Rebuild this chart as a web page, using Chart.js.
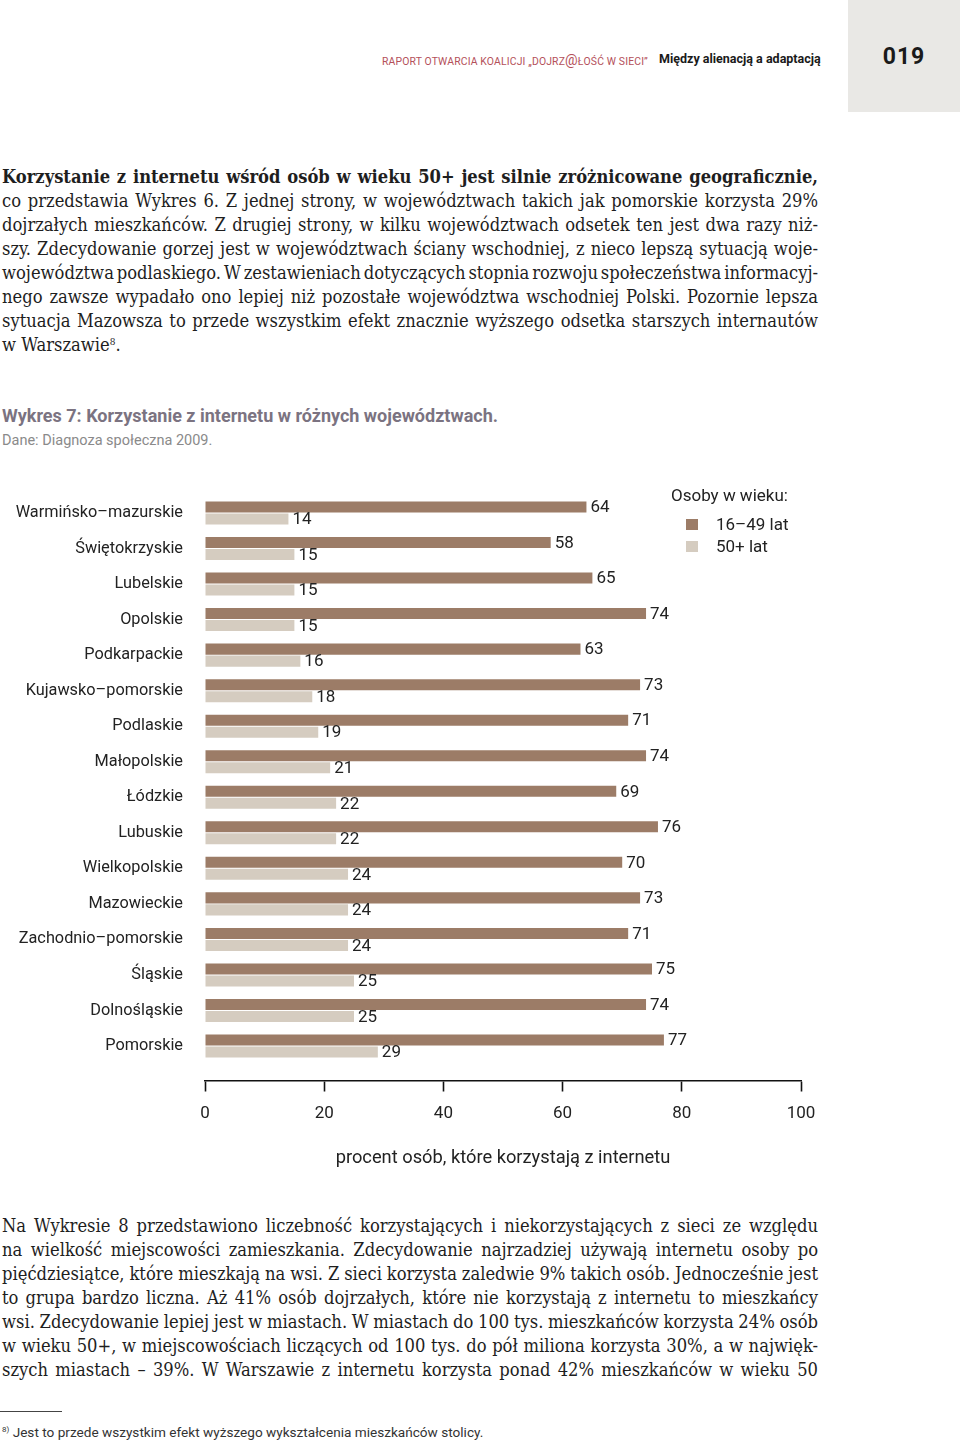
<!DOCTYPE html>
<html lang="pl">
<head>
<meta charset="utf-8">
<script src="https://cdn.jsdelivr.net/npm/chart.js@4.4.1/dist/chart.umd.min.js"></script>
<style>
  html, body { margin:0; padding:0; background:#fff; }
  body { width:960px; height:1444px; position:relative; overflow:hidden; font-family: Roboto, "DejaVu Sans", sans-serif; color:#222; }
  .abs { position:absolute; white-space:nowrap; }
  #pagebox { position:absolute; left:848px; top:0; width:112px; height:112px; background:#e9e8e5; }
  #pagenum { position:absolute; left:848px; top:43px; width:112px; text-align:center; font:bold 23px Roboto, sans-serif; color:#1a1a1a; letter-spacing:1px; }
  #hdr1 { left:382px; top:52px; font-size:10.4px; color:#b4505a; letter-spacing:0.15px; }
  #hdr2 { left:659px; top:51px; font-size:12.5px; font-weight:bold; color:#1a1a1a; }
  .para { position:absolute; left:2px; width:816px; font-family:"DejaVu Serif Condensed","DejaVu Serif",serif; font-stretch:condensed; font-size:18.2px; color:#1e1e1e; }
  .para div { height:24px; line-height:24px; white-space:nowrap; text-align:justify; text-align-last:justify; }
  .para div.last { text-align-last:left; }
  sup { font-size:10px; line-height:0; vertical-align:6px; }
  #ctitle { left:2px; top:405px; font-size:18px; font-weight:bold; color:#7b7381; }
  #csrc { left:2px; top:432px; font-size:14.5px; color:#8a8a8a; }
  #legend { position:absolute; left:671px; top:484px; font-size:17px; color:#222; }
  #legend .item { position:relative; height:22px; line-height:22px; padding-left:45px; }
  #legend .sw { position:absolute; left:15px; top:6px; width:12px; height:11px; }
  #legend .ttl { height:22px; line-height:22px; margin-bottom:7px; }
  #chartwrap { position:absolute; left:0; top:470px; width:960px; height:720px; }
  #fnline { position:absolute; left:0; top:1411px; width:62px; height:1px; background:#444; }
  #fn { left:2px; top:1424px; font-size:13.6px; color:#333; }
  #fn sup { font-size:8px; vertical-align:5px; }
</style>
</head>
<body>
<div id="pagebox"></div>
<div id="pagenum">019</div>
<div id="hdr1" class="abs">RAPORT OTWARCIA KOALICJI „DOJRZ<span style="font-size:14px">@</span>ŁOŚĆ W SIECI”</div>
<div id="hdr2" class="abs">Między alienacją a adaptacją</div>

<div class="para" style="top:165px">
  <div><b>Korzystanie z internetu wśród osób w wieku 50+ jest silnie zróżnicowane geograficznie,</b></div>
  <div>co przedstawia Wykres 6. Z jednej strony, w województwach takich jak pomorskie korzysta 29%</div>
  <div>dojrzałych mieszkańców. Z drugiej strony, w kilku województwach odsetek ten jest dwa razy niż-</div>
  <div>szy. Zdecydowanie gorzej jest w województwach ściany wschodniej, z nieco lepszą sytuacją woje-</div>
  <div>województwa podlaskiego. W zestawieniach dotyczących stopnia rozwoju społeczeństwa informacyj-</div>
  <div>nego zawsze wypadało ono lepiej niż pozostałe województwa wschodniej Polski. Pozornie lepsza</div>
  <div>sytuacja Mazowsza to przede wszystkim efekt znacznie wyższego odsetka starszych internautów</div>
  <div class="last">w Warszawie<sup>8</sup>.</div>
</div>

<div id="ctitle" class="abs">Wykres 7: Korzystanie z internetu w różnych województwach.</div>
<div id="csrc" class="abs">Dane: Diagnoza społeczna 2009.</div>

<div id="chartwrap"><canvas id="c" width="960" height="720"></canvas></div>
<div id="legend"></div>

<div class="para" style="top:1214px">
  <div>Na Wykresie 8 przedstawiono liczebność korzystających i niekorzystających z sieci ze względu</div>
  <div>na wielkość miejscowości zamieszkania. Zdecydowanie najrzadziej używają internetu osoby po</div>
  <div>pięćdziesiątce, które mieszkają na wsi. Z sieci korzysta zaledwie 9% takich osób. Jednocześnie jest</div>
  <div>to grupa bardzo liczna. Aż 41% osób dojrzałych, które nie korzystają z internetu to mieszkańcy</div>
  <div>wsi. Zdecydowanie lepiej jest w miastach. W miastach do 100 tys. mieszkańców korzysta 24% osób</div>
  <div>w wieku 50+, w miejscowościach liczących od 100 tys. do pół miliona korzysta 30%, a w najwięk-</div>
  <div>szych miastach – 39%. W Warszawie z internetu korzysta ponad 42% mieszkańców w wieku 50</div>
</div>

<div id="fnline"></div>
<div id="fn" class="abs"><sup>8)</sup> Jest to przede wszystkim efekt wyższego wykształcenia mieszkańców stolicy.</div>

<script>
// ---- data ----
const categories = ["Warmińsko–mazurskie","Świętokrzyskie","Lubelskie","Opolskie","Podkarpackie",
  "Kujawsko–pomorskie","Podlaskie","Małopolskie","Łódzkie","Lubuskie","Wielkopolskie",
  "Mazowieckie","Zachodnio–pomorskie","Śląskie","Dolnośląskie","Pomorskie"];
const age16to49 = [64,58,65,74,63,73,71,74,69,76,70,73,71,75,74,77];
const age50plus = [14,15,15,15,16,18,19,21,22,22,24,24,24,25,25,29];
const seriesLabels = ["16–49 lat","50+ lat"];
const xTicks = [0,20,40,60,80,100];
const legendTitle = "Osoby w wieku:";
const axisTitle = "procent osób, które korzystają z internetu";

const colors = ["#9c7c67","#d5ccc0"];
const seriesValues = [age16to49, age50plus];

// fit over-long justified text lines by tightening word spacing
document.querySelectorAll('.para div').forEach(d => {
  d.style.textAlignLast = 'left';
  d.style.display = 'inline-block';
  d.style.width = 'auto';
  const w = d.getBoundingClientRect().width;
  const spaces = (d.textContent.trim().match(/ /g) || []).length;
  if (w > 815 && spaces) d.style.wordSpacing = ((815 - w) / spaces) + 'px';
  d.style.display = '';
  d.style.width = '';
  d.style.textAlignLast = '';
});

const valueLabels = {
  id: 'valueLabels',
  afterDatasetsDraw(chart) {
    const ctx = chart.ctx;
    ctx.save();
    ctx.font = '17px Roboto, sans-serif';
    ctx.fillStyle = '#222';
    ctx.textAlign = 'left';
    ctx.textBaseline = 'middle';
    seriesValues.forEach((vals, di) => {
      const meta = chart.getDatasetMeta(di);
      meta.data.forEach((el, i) => {
        ctx.fillText(String(vals[i]), el.x + 4, el.y + 1);
      });
    });
    ctx.restore();
  }
};

const chart = new Chart(document.getElementById('c'), {
  type: 'bar',
  data: {
    datasets: seriesValues.map((vals, di) => ({
      label: seriesLabels[di],
      data: vals.map((v, i) => ({ x: v, y: i })),
      backgroundColor: colors[di],
      borderWidth: 0,
      categoryPercentage: 0.675,
      barPercentage: 0.92
    }))
  },
  options: {
    indexAxis: 'y',
    responsive: false,
    devicePixelRatio: 1,
    animation: false,
    layout: { padding: { left: 0, right: 159, top: 25.2, bottom: 9.5 } },
    plugins: { legend: { display: false }, tooltip: { enabled: false } },
    scales: {
      y: {
        type: 'linear',
        reverse: true,
        offset: false,
        min: -0.5,
        max: 15.97,
        afterBuildTicks: s => { s.ticks = categories.map((_, i) => ({ value: i })); },
        afterFit: s => { s.width = 205; },
        ticks: {
          autoSkip: false,
          padding: 14,
          color: '#222',
          font: { family: 'Roboto, sans-serif', size: 16.3 },
          callback: v => categories[v] ?? ''
        },
        grid: { display: false, offset: false },
        border: { display: false }
      },
      x: {
        type: 'linear',
        position: 'bottom',
        min: 0,
        max: 100,
        afterBuildTicks: s => { s.ticks = xTicks.map(v => ({ value: v })); },
        afterFit: s => { s.height = 100; },
        ticks: {
          padding: 12,
          color: '#222',
          font: { family: 'Roboto, sans-serif', size: 17 },
          maxRotation: 0
        },
        grid: {
          drawOnChartArea: false,
          drawTicks: true,
          tickLength: 11,
          tickColor: '#111',
          tickWidth: 1.6
        },
        border: { display: true, color: '#111', width: 1.6 },
        title: {
          display: true,
          text: axisTitle,
          color: '#222',
          font: { family: 'Roboto, sans-serif', size: 18.3 },
          padding: { top: 0, bottom: 11 }
        }
      }
    }
  },
  plugins: [valueLabels]
});

// HTML legend built from dataset definitions
const lg = document.getElementById('legend');
const t = document.createElement('div'); t.className = 'ttl'; t.textContent = legendTitle; lg.appendChild(t);
chart.data.datasets.forEach(ds => {
  const it = document.createElement('div'); it.className = 'item';
  const sw = document.createElement('span'); sw.className = 'sw'; sw.style.background = ds.backgroundColor;
  it.appendChild(sw); it.appendChild(document.createTextNode(ds.label)); lg.appendChild(it);
});
</script>
</body>
</html>
